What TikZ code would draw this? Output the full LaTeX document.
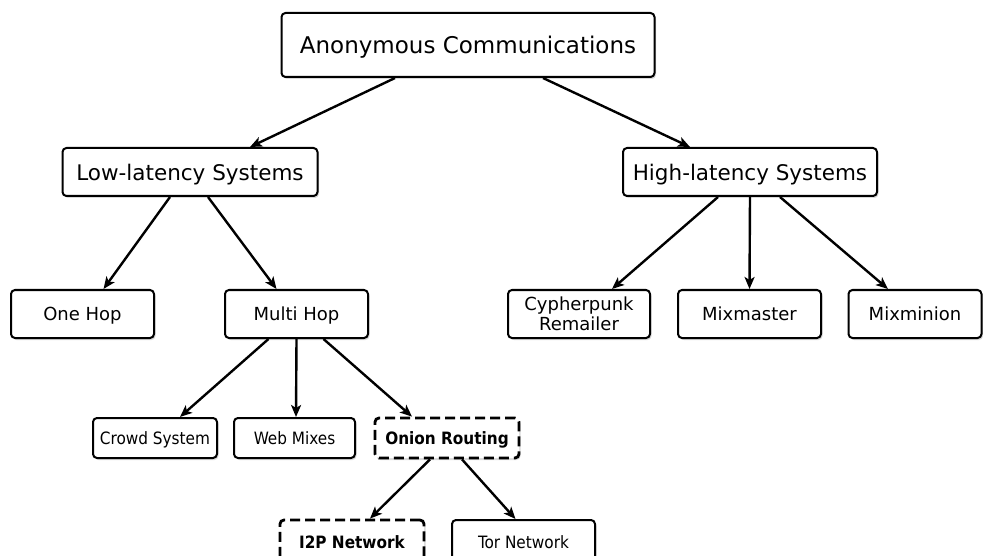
\documentclass[tikz,border=0pt]{standalone}
\usepackage{fontspec}
\setmainfont{DejaVu Sans}
\newfontfamily\condfont{DejaVu Sans Condensed}
\usetikzlibrary{arrows.meta,shadows}
\begin{document}
\begin{tikzpicture}[x=1pt,y=-1pt,
  box/.style={draw,line width=2pt,rounded corners=4pt,fill=white,align=center,inner sep=0pt,
    drop shadow={shadow xshift=1.5pt,shadow yshift=-2pt,opacity=0.3,fill=gray}},
  big/.style={box,text depth=0pt,font=\fontsize{23}{27}\selectfont},
  mid/.style={box,text depth=0pt,font=\fontsize{21.5}{25}\selectfont},
  small/.style={box,text depth=0pt,font=\fontsize{18}{21}\selectfont},
  tiny/.style={box,text depth=0pt,font=\condfont\fontsize{17}{20}\selectfont},
  dashbox/.style={dash pattern=on 10pt off 5pt,line width=2.8pt},
  arr/.style={draw,line width=2.4pt,-{Stealth[length=12pt,width=10pt,inset=3pt]}}
]
\useasboundingbox (0,0) rectangle (983,556);
\clip (0,0) rectangle (983,556);

\node[big,minimum width=373pt,minimum height=64pt] (ac) at (468,45) {Anonymous Communications};
\node[mid,minimum width=255pt,minimum height=48pt] (ll) at (190,172) {Low-latency Systems};
\node[mid,minimum width=254pt,minimum height=48pt] (hl) at (750,172) {High-latency Systems};

\node[small,minimum width=143pt,minimum height=48pt] (oh) at (82.5,314) {One Hop};
\node[small,minimum width=143pt,minimum height=48pt] (mh) at (296.5,314) {Multi Hop};
\node[box,minimum width=142pt,minimum height=48pt,font=\fontsize{18}{20}\selectfont] (cr) at (579,314) {Cypherpunk\\Remailer};
\node[small,minimum width=143pt,minimum height=48pt] (mm) at (749.5,314) {Mixmaster};
\node[small,minimum width=133pt,minimum height=48pt] (mn) at (915,314) {Mixminion};

\node[tiny,minimum width=124pt,minimum height=40pt] (cs) at (155,438) {Crowd System};
\node[tiny,minimum width=121pt,minimum height=40pt] (wm) at (294.5,438) {Web Mixes};
\node[tiny,dashbox,minimum width=144pt,minimum height=40pt,font=\condfont\bfseries\fontsize{17}{20}\selectfont] (or) at (447,438) {Onion Routing};

\node[tiny,dashbox,minimum width=144pt,minimum height=44pt,font=\condfont\bfseries\fontsize{17}{20}\selectfont] (i2p) at (352,542) {I2P Network};
\node[tiny,minimum width=143pt,minimum height=44pt] (tor) at (523.5,542) {Tor Network};

\draw[arr] ([xshift=-73pt]ac.south) -- ([xshift=60pt]ll.north);
\draw[arr] ([xshift=75pt]ac.south) -- ([xshift=-60pt]hl.north);

\draw[arr] ([xshift=-20pt]ll.south) -- ([xshift=21pt]oh.north);
\draw[arr] ([xshift=18pt]ll.south) -- ([xshift=-20pt]mh.north);

\draw[arr] ([xshift=-32pt]hl.south) -- ([xshift=33pt]cr.north);
\draw[arr] (hl.south) -- (mm.north);
\draw[arr] ([xshift=30pt]hl.south) -- ([xshift=-27pt]mn.north);

\draw[arr] ([xshift=-28pt]mh.south) -- ([xshift=25pt]cs.north);
\draw[arr] (mh.south) -- ([xshift=1.5pt]wm.north);
\draw[arr] ([xshift=27pt]mh.south) -- ([xshift=-35pt]or.north);

\draw[arr] ([xshift=-17pt]or.south) -- ([xshift=18pt]i2p.north);
\draw[arr] ([xshift=15pt]or.south) -- ([xshift=-8pt]tor.north);
\end{tikzpicture}
\end{document}
